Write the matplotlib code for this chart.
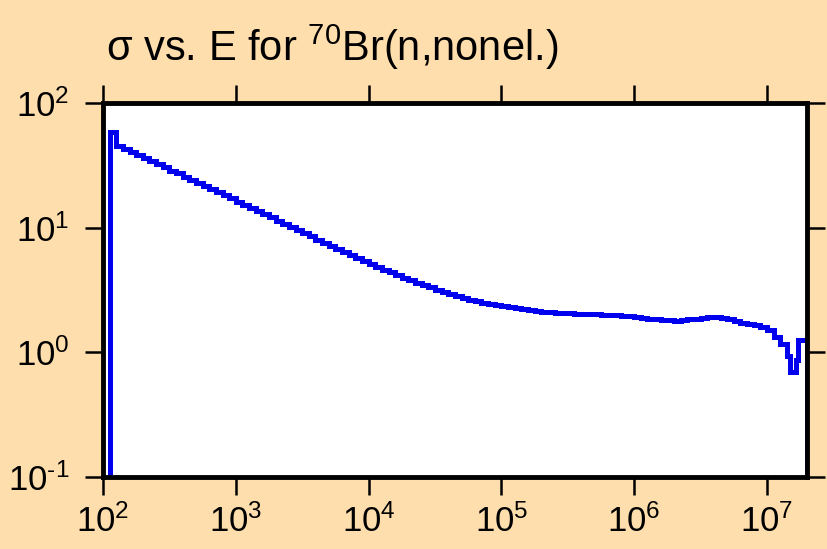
import numpy as np
import matplotlib
matplotlib.use('Agg')
from matplotlib import pyplot as plt
from matplotlib import ticker

plt.rcParams['font.family'] = ['Liberation Sans', 'DejaVu Sans']
plt.rcParams['mathtext.fontset'] = 'custom'
plt.rcParams['mathtext.rm'] = 'Liberation Sans'
plt.rcParams['mathtext.it'] = 'Liberation Sans:italic'
plt.rcParams['mathtext.bf'] = 'Liberation Sans:bold'

# group boundaries (eV): 20 groups per decade, finer groups near the top end
edges = np.concatenate([10 ** np.arange(2.05, 7.151, 0.05),
                        [1.5e7, 1.65e7, 1.72e7, 2.0e7]])

# cross section per group (b)
sigma = [58.4, 45.1, 42.7, 40.3, 38.1, 36.0, 34.1, 32.2, 30.4, 28.7,
         27.2, 25.7, 24.3, 23.0, 21.7, 20.5, 19.4, 18.2, 17.2, 16.2,
         15.3, 14.4, 13.6, 12.8, 12.1, 11.4, 10.7, 10.15, 9.57, 9.02,
         8.50, 8.03, 7.57, 7.13, 6.72, 6.35, 6.01, 5.68, 5.39, 5.11,
         4.85, 4.61, 4.39, 4.18, 3.98, 3.80, 3.63, 3.47, 3.32, 3.18,
         3.05, 2.93, 2.82, 2.73, 2.64, 2.57, 2.50, 2.45, 2.40, 2.36,
         2.31, 2.26, 2.21, 2.17, 2.14, 2.11, 2.09, 2.07, 2.05, 2.05,
         2.04, 2.03, 2.02, 2.02, 2.01, 1.99, 1.98, 1.96, 1.94, 1.91,
         1.89, 1.86, 1.84, 1.82, 1.81, 1.80, 1.81, 1.84, 1.86, 1.89,
         1.91, 1.91, 1.89, 1.84, 1.79, 1.73, 1.69, 1.65, 1.60, 1.50,
         1.32, 1.16, 0.93, 0.69, 0.86, 1.25]

xticks = [1e2, 1e3, 1e4, 1e5, 1e6, 1e7]
xlabels = [r'$10^{2}$', r'$10^{3}$', r'$10^{4}$', r'$10^{5}$', r'$10^{6}$', r'$10^{7}$']
yticks = [1e-1, 1e0, 1e1, 1e2]
ylabels = [r'$10^{\text{-}1}$', r'$10^{0}$', r'$10^{1}$', r'$10^{2}$']

fig = plt.figure(figsize=(8.27, 5.49), dpi=100)
fig.set_facecolor('#FFDEAD')
ax = fig.add_axes([103/827, 72/549, 704/827, 374/549])
ax.set_facecolor('white')

ax.stairs(sigma, edges, baseline=1e-3, color='#0000EE', lw=3.6, zorder=2)

ax.set_xscale('log')
ax.set_yscale('log')
ax.set_xlim(1e2, 2e7)
ax.set_ylim(1e-1, 1e2)
ax.xaxis.set_major_locator(ticker.FixedLocator(xticks))
ax.xaxis.set_major_formatter(ticker.FixedFormatter(xlabels))
ax.yaxis.set_major_locator(ticker.FixedLocator(yticks))
ax.yaxis.set_major_formatter(ticker.FixedFormatter(ylabels))
ax.xaxis.set_minor_locator(ticker.NullLocator())
ax.yaxis.set_minor_locator(ticker.NullLocator())

for s in ax.spines.values():
    s.set_linewidth(3.5)
    s.set_zorder(3)

ax.tick_params(which='major', direction='out', length=13, width=1.8,
               top=True, right=True, labelsize=25, colors='black')
ax.tick_params(axis='x', pad=7)
ax.tick_params(axis='y', pad=11)

fig.text(106/827, 1 - 61/549, r'σ vs. E for $^{70}$Br(n,nonel.)',
         fontsize=30, ha='left', va='baseline')

fig.savefig('out.png', dpi=100, facecolor=fig.get_facecolor())
